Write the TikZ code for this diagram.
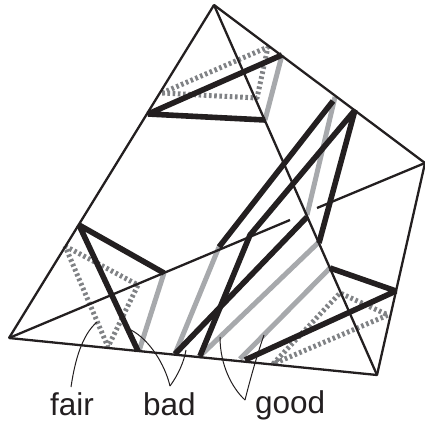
\documentclass[tikz,border=0pt]{standalone}
\usepackage{fontspec}
\setmainfont{Liberation Sans}
\definecolor{inkblack}{HTML}{231F20}
\definecolor{lightgray}{HTML}{A7A9AC}
\definecolor{midgray}{HTML}{808285}
\begin{document}
\begin{tikzpicture}[x=1pt,y=-1pt,line join=bevel,
	edge/.style={inkblack, line width=2.3pt},
	bad/.style={inkblack, line width=5.6pt},
	good/.style={lightgray, line width=5pt},
	fair/.style={midgray, line width=5pt, dash pattern=on 2.6pt off 2.6pt},
	leader/.style={inkblack, line width=1pt},
	lab/.style={inkblack, anchor=base west, inner sep=0pt, font=\fontsize{31.5}{32}\selectfont}]
	\useasboundingbox (0,0) rectangle (425,423);
	% outer faces
	\coordinate (T) at (214,5);
	\coordinate (R) at (425,163);
	\coordinate (B) at (377,375);
	\coordinate (L) at (9,338);
	\coordinate (gapL) at (290,220);
	\coordinate (gapR) at (317,208);

	% fair triangles
	\draw [fair] (162,93) -- (268,47) -- (257,98) -- cycle;
	\draw [fair] (65,246) -- (138,285) -- (108,347) -- cycle;
	\draw [fair] (273,364) -- (340,293) -- (388,315) -- cycle;

	% good segments
	\draw [good] (282,55) -- (265,120);
	\draw [good] (164,273) -- (139,351);
	\draw [good] (219,247) -- (175,354);
	\draw [good] (335,97) -- (307,215);
	\draw [good] (319,242) -- (199,357);
	\draw [good] (330,268) -- (240,359);

	% bad segments
	\draw [bad] (265,120) -- (148,114) -- (282,55);
	\draw [bad] (164,273) -- (79,225) -- (138,351);
	\draw [bad] (219,247) -- (333,101);
	\draw [bad] (175,354) -- (307,217);
	\draw [bad] (200,356) -- (250,235) -- (355,110) -- (319,243);
	\draw [bad] (330,268) -- (396,291) -- (245,360);

	% edges
	\draw [edge] (L) -- (T) -- (R) -- (B) -- cycle;
	\draw [edge] (T) -- (B);
	\draw [edge] (L) -- (gapL);
	\draw [edge] (gapR) -- (R);

	% leaders
	\draw [leader] (71,387) .. controls (75,360) and (82,335) .. (97,322);
	\draw [leader] (131,330) .. controls (150,340) and (165,365) .. (170,386);
	\draw [leader] (170,386) .. controls (178,375) and (184,362) .. (186,350);
	\draw [leader] (220,337) .. controls (220,365) and (232,388) .. (245,400);
	\draw [leader] (245,400) .. controls (250,380) and (257,355) .. (264,335);

	\node [lab] (fairlabel) at (50,415) {fair};
	\node [lab] (badlabel) at (143,415) {bad};
	\node [lab] (goodlabel) at (255,413) {good};
\end{tikzpicture}
\end{document}
